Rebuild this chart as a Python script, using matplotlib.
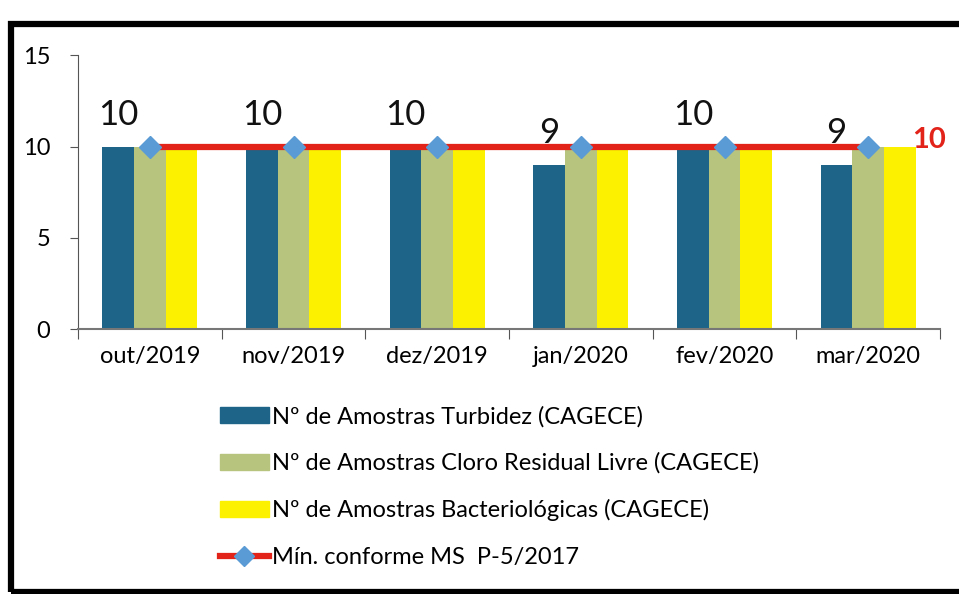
import matplotlib
matplotlib.use("Agg")
import matplotlib.pyplot as plt
import numpy as np
from matplotlib.patches import Rectangle
from matplotlib.lines import Line2D

plt.rcParams['font.family'] = ['Lato', 'DejaVu Sans']

months = ["out/2019", "nov/2019", "dez/2019", "jan/2020", "fev/2020", "mar/2020"]
turbidez = [10, 10, 10, 9, 10, 9]
cloro = [10, 10, 10, 10, 10, 10]
bacterio = [10, 10, 10, 10, 10, 10]
minimo = [10, 10, 10, 10, 10, 10]

labels = ["Nº de Amostras Turbidez (CAGECE)",
          "Nº de Amostras Cloro Residual Livre (CAGECE)",
          "Nº de Amostras Bacteriológicas (CAGECE)",
          "Mín. conforme MS  P-5/2017"]

c_turb = "#1d6488"
c_cloro = "#b6c47e"
c_bact = "#fcf200"
c_line = "#e2231a"
c_mark = "#5b9bd5"

fig = plt.figure(figsize=(9.59, 5.94), dpi=100)
ax = fig.add_axes([0.0813, 0.446, 0.899, 0.461])

x = np.arange(len(months))
w = 0.22
ax.bar(x - w, turbidez, w, color=c_turb, label=labels[0])
ax.bar(x, cloro, w, color=c_cloro, label=labels[1])
ax.bar(x + w, bacterio, w, color=c_bact, label=labels[2])
ax.plot(x, minimo, color=c_line, lw=4.5, marker="D", markersize=11,
        markerfacecolor=c_mark, markeredgecolor=c_mark, label=labels[3], zorder=5)

for xi, v in zip(x, turbidez):
    ax.annotate(str(v), (xi - w, v), xytext=(0, 11), textcoords="offset points",
                ha="center", va="bottom", fontsize=25, color="#111111")
ax.annotate(str(minimo[-1]), (x[-1], minimo[-1]), xytext=(44, 5), textcoords="offset points",
            ha="center", va="center", fontsize=21, color=c_line, fontweight="bold",
            annotation_clip=False)

ax.set_xlim(-0.5, len(months) - 0.5)
ax.set_ylim(0, 15)
ax.set_yticks([0, 5, 10, 15])
ax.tick_params(axis="y", labelsize=17, length=6, direction="out", pad=14, color="#555555")
ax.set_xticks(np.arange(-0.5, len(months), 1.0))
ax.set_xticklabels([])
ax.set_xticks(x, minor=True)
ax.set_xticklabels(months, minor=True, fontsize=17)
ax.tick_params(axis="x", which="major", length=7, direction="out", color="#555555")
ax.tick_params(axis="x", which="minor", length=0, pad=12)
for s in ["top", "right"]:
    ax.spines[s].set_visible(False)
ax.spines["left"].set_color("#555555")
ax.spines["bottom"].set_color("#777777")
ax.spines["bottom"].set_linewidth(1.5)

handles = [Rectangle((0, 0), 1, 1, color=c_turb), Rectangle((0, 0), 1, 1, color=c_cloro),
           Rectangle((0, 0), 1, 1, color=c_bact),
           Line2D([], [], color=c_line, lw=4.5, marker="D", markersize=10,
                  markerfacecolor=c_mark, markeredgecolor=c_mark)]
fig.legend(handles, labels, loc="upper left", bbox_to_anchor=(0.229, 0.317),
           frameon=False, fontsize=17, handlelength=2.1, handleheight=0.65,
           handletextpad=0.1, labelspacing=1.07, borderaxespad=0, borderpad=0)

fig.add_artist(Rectangle((0.011, 0.004), 1.05, 0.956, transform=fig.transFigure,
                         fill=False, lw=4.5, edgecolor="black", clip_on=False))

fig.savefig("out.png", dpi=100)
